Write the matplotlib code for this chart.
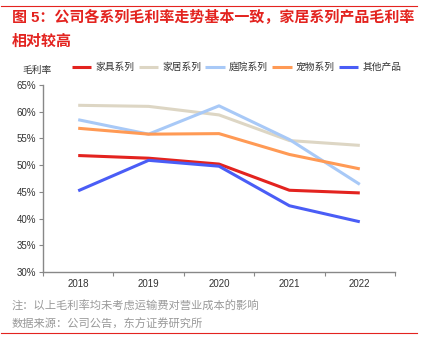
import numpy as np
import matplotlib
matplotlib.use("Agg")
import matplotlib.pyplot as plt
from matplotlib.lines import Line2D

plt.rcParams['font.family'] = ['Liberation Sans', 'Noto Sans CJK SC', 'DejaVu Sans']

years = ["2018", "2019", "2020", "2021", "2022"]
furniture = [51.8, 51.3, 50.2, 45.3, 44.8]
home = [61.2, 61.0, 59.4, 54.6, 53.7]
garden = [58.5, 55.8, 61.1, 54.8, 46.4]
pet = [56.9, 55.8, 55.9, 52.0, 49.3]
other = [45.2, 50.9, 49.8, 42.4, 39.4]

series_names = ["家具系列", "家居系列", "庭院系列", "宠物系列", "其他产品"]
series_vals = [furniture, home, garden, pet, other]
colors = ["#E3231F", "#DDD6C4", "#A8C9F7", "#FF9A55", "#4A5DF6"]

fig = plt.figure(figsize=(4.27, 3.49), dpi=100)
ax = fig.add_axes([43/427, (349-272)/349, (395-43)/427, (272-85)/349])

x = np.arange(len(years))
for name, vals, c in zip(series_names, series_vals, colors):
    ax.plot(x, vals, color=c, lw=2.2, label=name, solid_capstyle="butt")

ax.set_xlim(-0.5, len(years) - 0.5)
ax.set_ylim(30, 65)
ax.set_yticks(np.arange(30, 66, 5))
ax.set_yticklabels(["%d%%" % v for v in range(30, 66, 5)], fontsize=7, color="#333333")
ax.set_xticks(np.arange(-0.5, len(years), 1))
ax.set_xticklabels([])
ax.set_xticks(x, minor=True)
ax.set_xticklabels(years, minor=True, fontsize=7, color="#333333")
ax.tick_params(axis="x", which="minor", length=0, pad=5)
ax.tick_params(axis="x", which="major", length=3, color="#888888", direction="out")
ax.tick_params(axis="y", length=3, color="#888888", pad=2)
for s in ["top", "right"]:
    ax.spines[s].set_visible(False)
for s in ["left", "bottom"]:
    ax.spines[s].set_color("#888888")
    ax.spines[s].set_linewidth(1.0)

leg = ax.legend(loc="upper left", bbox_to_anchor=(72/427, (349-62)/349),
                bbox_transform=fig.transFigure, ncol=5, frameon=False,
                fontsize=7, handlelength=2.0, handletextpad=0.4,
                columnspacing=0.45, borderaxespad=0, borderpad=0)
for t in leg.get_texts():
    t.set_color("#333333")
fig.text(22/427, 1 - 70/349, "毛利率", fontsize=7, color="#333333", va="center")

# title and footer
fig.add_artist(Line2D([1/427, 417/427], [1 - 6/349, 1 - 6/349], color="#E3231F", lw=0.8))
fig.text(12/427, 1 - 17/349, "图 5：公司各系列毛利率走势基本一致，家居系列产品毛利率",
         fontsize=10.8, color="#E3231F", va="center", fontweight="bold")
fig.text(12/427, 1 - 42/349, "相对较高",
         fontsize=10.8, color="#E3231F", va="center", fontweight="bold")
fig.text(12/427, 1 - 306/349, "注：以上毛利率均未考虑运输费对营业成本的影响",
         fontsize=8.1, color="#999999", va="center")
fig.text(12/427, 1 - 324/349, "数据来源：公司公告，东方证券研究所",
         fontsize=8.1, color="#999999", va="center")
fig.add_artist(Line2D([1/427, 417/427], [1 - 333/349, 1 - 333/349], color="#E3231F", lw=0.8))

fig.savefig("out.png", dpi=100)
